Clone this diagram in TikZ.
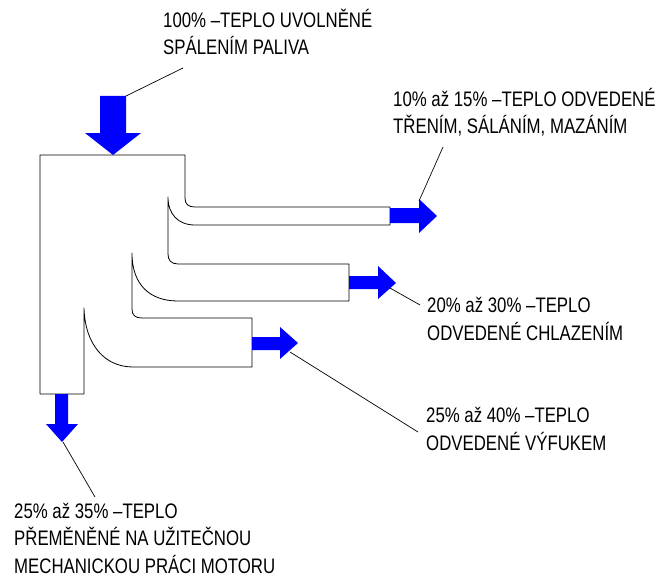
\documentclass[tikz,border=0pt]{standalone}
\usepackage{fontspec}
\setmainfont{Liberation Sans}[FakeStretch=0.8]
\definecolor{arrowblue}{RGB}{0,0,255}
\begin{document}
\begin{tikzpicture}[x=1pt,y=-1pt,
  outline/.style={draw=black,line width=0.8pt,line join=round},
  flow/.style={fill=arrowblue,draw=none},
  leader/.style={draw=black,line width=0.7pt},
  lbl/.style={anchor=base west,inner sep=0pt,align=left,font=\fontsize{21}{27.5}\selectfont}]
\useasboundingbox (0,0) rectangle (662,578);
% engine outline with outflow channels
\draw[outline] (40,394) -- (40,155) -- (185,155) -- (185,198)
  .. controls (185,204) and (188,207) .. (195,207) -- (390,207) -- (390,225) -- (195,225)
  .. controls (178,225) and (168,214) .. (168,197) -- (168,254)
  .. controls (168,260) and (171,264) .. (178,264) -- (349,264) -- (349,301) -- (178,301)
  .. controls (150,301) and (132,285) .. (132,253) -- (132,309)
  .. controls (132,315) and (135,318) .. (142,318) -- (252,318) -- (252,367) -- (133,367)
  .. controls (105,367) and (85,345) .. (84,308) -- (84,394) -- cycle;
% arrows
\fill[flow] (100,96) -- (126,96) -- (126,133) -- (141,133) -- (113,155) -- (85,133) -- (100,133) -- cycle;
\fill[flow] (390,208) -- (419,208) -- (419,199) -- (437,216) -- (419,233) -- (419,223) -- (390,223) -- cycle;
\fill[flow] (349,276) -- (378,276) -- (378,266) -- (396,283) -- (378,299) -- (378,289) -- (349,289) -- cycle;
\fill[flow] (252,337) -- (280,337) -- (280,327) -- (298,343) -- (280,359) -- (280,350) -- (252,350) -- cycle;
\fill[flow] (55,394) -- (68,394) -- (68,424) -- (78,424) -- (62,442) -- (46,424) -- (55,424) -- cycle;
% leader anchor points
\coordinate (aTop) at (126,96);
\coordinate (eTop) at (183,68);
\coordinate (aOne) at (419,201);
\coordinate (eOne) at (443,147);
\coordinate (aTwo) at (390,288);
\coordinate (eTwo) at (420,305);
\coordinate (aThree) at (290,352);
\coordinate (eThree) at (418,432);
\coordinate (aBot) at (63,442);
\coordinate (eBot) at (95,497);
\draw[leader] (aTop) -- (eTop);
\draw[leader] (aOne) -- (eOne);
\draw[leader] (aTwo) -- (eTwo);
\draw[leader] (aThree) -- (eThree);
\draw[leader] (aBot) -- (eBot);
% labels (base anchor = baseline of last line)
\node[lbl] (tTop) at (163,55) {100\% –TEPLO UVOLNĚNÉ\\SPÁLENÍM PALIVA};
\node[lbl] (tOne) at (393,134) {10\% až 15\% –TEPLO ODVEDENÉ\\TŘENÍM, SÁLÁNÍM, MAZÁNÍM};
\node[lbl] (tTwo) at (427,340) {20\% až 30\% –TEPLO\\ODVEDENÉ CHLAZENÍM};
\node[lbl] (tThree) at (426,450) {25\% až 40\% –TEPLO\\ODVEDENÉ VÝFUKEM};
\node[lbl] (tBot) at (14,573) {25\% až 35\% –TEPLO\\PŘEMĚNĚNÉ NA UŽITEČNOU\\MECHANICKOU PRÁCI MOTORU};
\end{tikzpicture}
\end{document}
